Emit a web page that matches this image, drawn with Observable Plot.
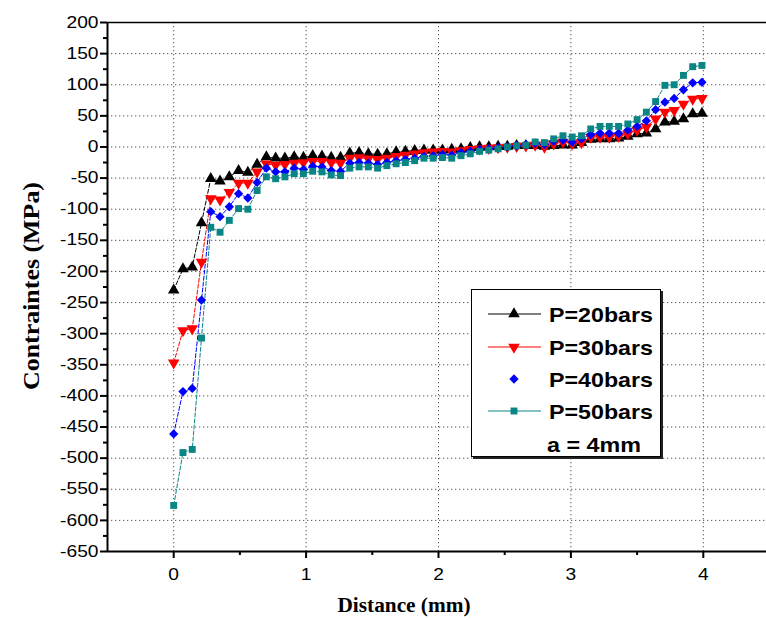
<!DOCTYPE html>
<html><head><meta charset="utf-8">
<script src="https://cdn.jsdelivr.net/npm/d3@7"></script>
<script src="https://cdn.jsdelivr.net/npm/@observablehq/plot@0.6"></script>
<style>
body{margin:0;background:#fff;}
#wrap{position:relative;width:766px;height:620px;overflow:hidden;font-family:"Liberation Sans",Arial,sans-serif;}
#legend{position:absolute;left:471px;top:289px;width:188px;height:166px;background:#fff;border:1px solid #000;box-shadow:2px 2px 0 #222;}
</style></head><body><div id="wrap"><div id="chart"></div><div id="legend"></div></div>
<script>
// ---- data ----
const distance = [0,0.07,0.14,0.21,0.28,0.35,0.42,0.49,0.56,0.63,0.70,0.77,0.84,0.91,0.98,1.05,1.12,1.19,1.26,1.33,1.40,1.47,1.54,1.61,1.68,1.75,1.82,1.89,1.96,2.03,2.10,2.17,2.24,2.31,2.38,2.45,2.52,2.59,2.66,2.73,2.80,2.87,2.94,3.01,3.08,3.15,3.22,3.29,3.36,3.43,3.50,3.57,3.64,3.71,3.78,3.85,3.92,3.99];
const p20 = [-230,-196,-193,-122,-51,-55,-48,-38,-41,-28,-16,-18,-18,-16,-17,-14,-15,-17,-17,-10,-9,-11,-12,-11,-8,-7,-6,-5,-5,-5,-4,-3,-1,0,0,1,1,2,2,2,1,2,3,3,7,12,13,13,14,17,21,22,29,40,41,45,53,54];
const p30 = [-347,-295,-292,-185,-83,-85,-73,-58,-58,-40,-27,-29,-28,-26,-25,-23,-23,-25,-26,-18,-17,-19,-20,-18,-15,-13,-11,-9,-8,-7,-8,-6,-4,-3,-2,-1,0,1,2,3,0,5,8,5,7,16,16,16,17,21,27,32,45,56,59,69,77,78];
const p40 = [-461,-393,-388,-246,-104,-112,-96,-75,-82,-57,-34,-40,-40,-34,-36,-31,-32,-38,-39,-26,-25,-26,-28,-25,-22,-20,-18,-15,-14,-12,-13,-9,-7,-4,-3,-1,0,2,4,6,4,9,11,8,13,20,22,22,22,27,33,42,60,72,78,92,103,104];
const p50 = [-576,-491,-486,-307,-129,-137,-118,-99,-100,-70,-48,-51,-48,-43,-43,-39,-40,-45,-46,-34,-32,-32,-34,-30,-27,-25,-22,-18,-18,-17,-18,-14,-11,-7,-5,-3,0,2,3,8,7,13,18,16,18,29,33,33,33,37,44,56,73,99,100,115,129,131];
const seriesNames = ["P=20bars","P=30bars","P=40bars","P=50bars"];
const seriesColors = ["#000000","#ff0000","#0000ff","#0a8585"];
const legendHasLine = [true,true,false,true];
const legendNote = "a = 4mm";
const yTicks = [200,150,100,50,0,-50,-100,-150,-200,-250,-300,-350,-400,-450,-500,-550,-600,-650];
const yMinor = [175,125,75,25,-25,-75,-125,-175,-225,-275,-325,-375,-425,-475,-525,-575,-625];
const yGrid = [150,100,50,0,-50,-100,-150,-200,-250,-300,-350,-400,-450,-500,-550,-600];
const xTicks = [0,1,2,3,4];
const xMinor = [0.5,1.5,2.5,3.5,4.5];
const xTitle = "Distance (mm)";
const yTitle = "Contraintes (MPa)";

// ---- symbols ----
const triDown = {draw(ctx, size){const y=Math.sqrt(size/(Math.sqrt(3)*3)); ctx.moveTo(0,2*y); ctx.lineTo(-Math.sqrt(3)*y,-y); ctx.lineTo(Math.sqrt(3)*y,-y); ctx.closePath();}};
const symbols = [d3.symbolTriangle, triDown, d3.symbolDiamond2, d3.symbolSquare];
const radii = [4.3, 4.3, 4.2, 3.9];

const allSeries = [p20,p30,p40,p50];
const tables = allSeries.map(s => distance.map((d,i)=>({x:d, y:s[i]})));

const marks = [
  Plot.ruleY(yGrid, {stroke:"#555", strokeDasharray:"1.3,2.7", strokeWidth:1}),
  Plot.ruleX(xTicks, {stroke:"#555", strokeDasharray:"1.3,2.7", strokeWidth:1}),
];
tables.forEach((t,k)=>{
  marks.push(Plot.line(t, {x:"x", y:"y", stroke:seriesColors[k], strokeWidth:1, strokeDasharray:"4,2"}));
});
tables.forEach((t,k)=>{
  marks.push(Plot.dot(t, {x:"x", y:"y", fill:seriesColors[k], stroke:"none", symbol:symbols[k], r:radii[k]}));
});
marks.push(
  Plot.ruleY([200], {stroke:"#000", strokeWidth:1.5}),
  Plot.ruleY([-650], {stroke:"#000", strokeWidth:2}),
  Plot.ruleX([-0.5], {stroke:"#000", strokeWidth:2}),
  Plot.axisY(yTicks, {anchor:"left", tickSize:7, tickPadding:2, strokeWidth:2, tickFormat:d=>String(d), label:null, fontSize:16}),
  Plot.axisY(yMinor, {anchor:"left", tickSize:4, strokeWidth:2, tickFormat:()=>"", label:null}),
  Plot.axisX(xTicks, {anchor:"bottom", tickSize:7, tickPadding:10, strokeWidth:2, tickFormat:d=>String(d), label:null, fontSize:16}),
  Plot.axisX(xMinor, {anchor:"bottom", tickSize:4, strokeWidth:2, tickFormat:()=>"", label:null})
);

const chart = Plot.plot({
  width:766, height:620,
  marginLeft:107, marginRight:-3, marginTop:22, marginBottom:69,
  x:{domain:[-0.5,4.5]},
  y:{domain:[-650,200]},
  style:{fontFamily:"'Liberation Sans', Arial, sans-serif", fontSize:"16px", color:"#000", background:"transparent"},
  marks
});
document.getElementById("chart").appendChild(chart);

// stretch tick labels horizontally (reference text is wide)
const svg = d3.select(chart);
svg.selectAll("g[aria-label$='tick label'] text").each(function(){
  const t = this.getAttribute("transform");
  if (t) this.setAttribute("transform", t + " scale(1.2,1)");
  else { const x=+this.getAttribute("x")||0; this.setAttribute("transform", `translate(${x},0) scale(1.2,1) translate(${-x},0)`); }
});
// axis titles
svg.append("text").attr("transform","translate(39,286) rotate(-90)")
  .attr("text-anchor","middle").attr("font-family","'Liberation Serif','Times New Roman',serif")
  .attr("font-weight","bold").attr("font-size",23).attr("textLength",208).attr("lengthAdjust","spacingAndGlyphs")
  .attr("fill","#000").text(yTitle);
svg.append("text").attr("x",404).attr("y",612)
  .attr("text-anchor","middle").attr("font-family","'Liberation Serif','Times New Roman',serif")
  .attr("font-weight","bold").attr("font-size",20).attr("textLength",133).attr("lengthAdjust","spacingAndGlyphs")
  .attr("fill","#000").text(xTitle);

// legend
const lg = d3.select("#legend").append("svg").attr("width",188).attr("height",166)
  .style("font-family","'Liberation Sans', Arial, sans-serif");
const rowY = [24, 57, 89, 121];
seriesNames.forEach((name,k)=>{
  const g = lg.append("g").attr("transform",`translate(0,${rowY[k]})`);
  if (legendHasLine[k]) g.append("line").attr("x1",16).attr("x2",69).attr("y1",0).attr("y2",0).attr("stroke",seriesColors[k]).attr("stroke-width",1.2);
  g.append("path").attr("transform","translate(42,0)").attr("d", d3.symbol(symbols[k], Math.PI*radii[k]*radii[k])()).attr("fill",seriesColors[k]);
  g.append("text").attr("x",77).attr("y",8).attr("font-size",21).attr("font-weight","bold")
    .attr("textLength",104).attr("lengthAdjust","spacingAndGlyphs").attr("fill","#000").text(name);
});
lg.append("text").attr("x",75).attr("y",162).attr("font-size",21).attr("font-weight","bold")
  .attr("textLength",94).attr("lengthAdjust","spacingAndGlyphs").attr("fill","#000").text(legendNote);
</script></body></html>
